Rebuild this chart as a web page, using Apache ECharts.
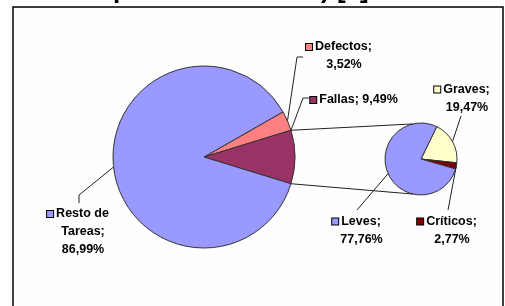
<!DOCTYPE html>
<html>
<head>
<meta charset="utf-8">
<script src="https://cdn.jsdelivr.net/npm/echarts@6/dist/echarts.min.js"></script>
<style>
html, body { margin: 0; padding: 0; background: #fff; }
#chart { width: 505px; height: 306px; }
</style>
</head>
<body>
<div id="chart"></div>
<script>
var titleText = 'por su severidad) [3]';

var mainNames = ['Defectos', 'Fallas', 'Resto de Tareas'];
var mainValues = [3.52, 9.49, 86.99];
var subNames = ['Graves', 'Críticos', 'Leves'];
var subValues = [19.47, 2.77, 77.76];
var splitIndex = 1; // Fallas se desglosa en el segundo pastel

var mainColors = ['#ff8080', '#993366', '#9999ff'];
var subColors = ['#ffffcc', '#800000', '#9999ff'];

var mainCenter = [204, 157], mainR = 91;
var subCenter = [421, 159], subR = 36;
var subStart = 64;

// centro de cada etiqueta, salto de linea y quiebre de la linea guia
var mainLabels = [
    {x: 344, y: 56, brk: '\n', bend: [[297, 57], [303, 57]]},
    {x: 359, y: 100, brk: ' ', edge: true, bend: [[303, 98], [309, 98]]},
    {x: 83, y: 232, brk: '\n', wrap: 'Resto de\nTareas', bend: [[79, 195], [79, 203]]}
];
var subLabels = [
    {x: 467, y: 98.5, brk: '\n', bend: [[461, 116]]},
    {x: 452, y: 230.5, brk: '\n', bend: [[448, 210]]},
    {x: 361.5, y: 230.5, brk: '\n', bend: [[357, 210]]}
];

function sum(arr) {
    var s = 0;
    for (var i = 0; i < arr.length; i++) s += arr[i];
    return s;
}
function fmt(v) {
    return v.toFixed(2).replace('.', ',');
}
function polar(c, r, deg) {
    var t = deg * Math.PI / 180;
    return [c[0] + r * Math.cos(t), c[1] - r * Math.sin(t)];
}
function sliceAngles(values, start) {
    var total = sum(values), a = start, out = [];
    for (var i = 0; i < values.length; i++) {
        var span = values[i] / total * 360;
        out.push([a, a - span]);
        a -= span;
    }
    return out;
}
function makeRich(colors) {
    var r = {
        t: {fontSize: 12.5, fontWeight: 'bold', fontFamily: 'Liberation Sans', color: '#000', lineHeight: 18},
        g: {width: 3},
        sp: {width: 10}
    };
    for (var i = 0; i < colors.length; i++) {
        r['sq' + i] = {width: 6, height: 6, backgroundColor: colors[i], borderColor: '#000', borderWidth: 1};
    }
    return r;
}
function makeFormatter(labels) {
    return function (p) {
        var L = labels[p.dataIndex];
        var txt = (L.wrap || p.name) + ';' + L.brk + fmt(p.value) + '%';
        var lines = txt.split('\n');
        var out = '{sq' + p.dataIndex + '|}{g|}{t|' + lines[0] + '}{sp|}';
        for (var i = 1; i < lines.length; i++) out += '\n{t|' + lines[i] + '}';
        return out;
    };
}
function makeData(names, values, colors) {
    var d = [];
    for (var i = 0; i < names.length; i++) {
        d.push({name: names[i], value: values[i], itemStyle: {color: colors[i]}});
    }
    return d;
}

// Fallas centrado a la derecha (hacia el segundo pastel)
var before = sum(mainValues.slice(0, splitIndex));
var mainStart = (before + mainValues[splitIndex] / 2) / sum(mainValues) * 360;

var mainAng = sliceAngles(mainValues, mainStart);
var subAng = sliceAngles(subValues, subStart);

var graphics = [{
    type: 'rect',
    z: 0,
    shape: {x: 13, y: 7, width: 490, height: 320},
    style: {fill: '#fefefe', stroke: '#000', lineWidth: 1.5}
}];

// lineas que unen Fallas con el segundo pastel
var fa = mainAng[splitIndex];
graphics.push({
    type: 'polyline', z: 10,
    shape: {points: [polar(mainCenter, mainR, fa[0]), polar(subCenter, subR, 103)]},
    style: {stroke: '#222', lineWidth: 1, fill: null}
});
graphics.push({
    type: 'polyline', z: 10,
    shape: {points: [polar(mainCenter, mainR, fa[1]), polar(subCenter, subR, -103)]},
    style: {stroke: '#222', lineWidth: 1, fill: null}
});

function addLeaders(labels, ang, c, r) {
    for (var i = 0; i < labels.length; i++) {
        var a = labels[i].edge ? ang[i][0] : (ang[i][0] + ang[i][1]) / 2;
        graphics.push({
            type: 'polyline', z: 10,
            shape: {points: [polar(c, r, a)].concat(labels[i].bend)},
            style: {stroke: '#222', lineWidth: 1, fill: null}
        });
    }
}
addLeaders(mainLabels, mainAng, mainCenter, mainR);
addLeaders(subLabels, subAng, subCenter, subR);

function layoutFor(labels) {
    return function (p) {
        var L = labels[p.dataIndex];
        return {x: L.x, y: L.y, align: 'center', verticalAlign: 'middle'};
    };
}

var myChart = echarts.init(document.getElementById('chart'));
var option = {
    animation: false,
    backgroundColor: '#fff',
    title: {
        text: titleText,
        left: 113,
        top: -22,
        padding: 0,
        textStyle: {fontSize: 26, fontWeight: 'bold', fontFamily: 'Liberation Sans', color: '#000'}
    },
    graphic: graphics,
    series: [{
        type: 'pie',
        center: mainCenter,
        radius: mainR,
        startAngle: mainStart,
        clockwise: true,
        avoidLabelOverlap: false,
        silent: true,
        itemStyle: {borderColor: '#333', borderWidth: 1},
        label: {show: true, position: 'outside', formatter: makeFormatter(mainLabels), rich: makeRich(mainColors)},
        labelLine: {show: false},
        labelLayout: layoutFor(mainLabels),
        data: makeData(mainNames, mainValues, mainColors)
    }, {
        type: 'pie',
        center: subCenter,
        radius: subR,
        startAngle: subStart,
        clockwise: true,
        avoidLabelOverlap: false,
        silent: true,
        itemStyle: {borderColor: '#333', borderWidth: 1},
        label: {show: true, position: 'outside', formatter: makeFormatter(subLabels), rich: makeRich(subColors)},
        labelLine: {show: false},
        labelLayout: layoutFor(subLabels),
        data: makeData(subNames, subValues, subColors)
    }]
};
myChart.setOption(option);
</script>
</body>
</html>
